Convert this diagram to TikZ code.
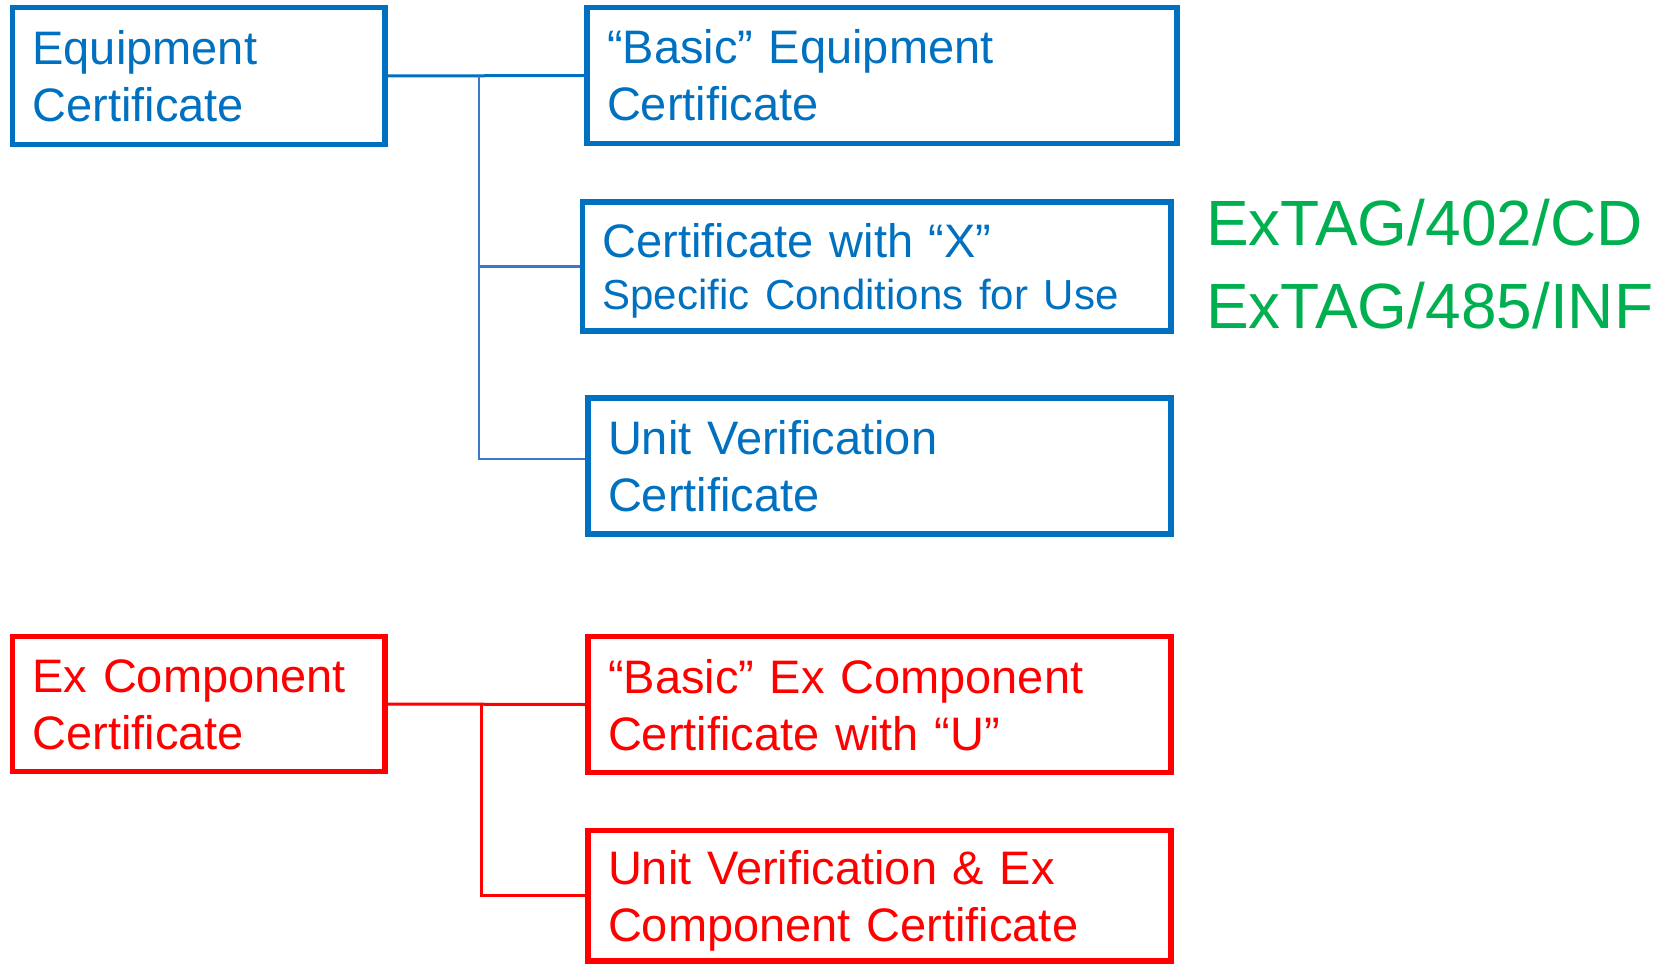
\documentclass[tikz,border=0pt]{standalone}
\usepackage{fontspec}
\setmainfont{Liberation Sans}
\definecolor{cblue}{HTML}{0070C0}
\definecolor{cbluel}{HTML}{3F78C2}
\definecolor{cred}{HTML}{FF0000}
\definecolor{cgreen}{HTML}{00B050}
\begin{document}
\begin{tikzpicture}[x=1pt,y=-1pt,
  cbox/.style={draw, rectangle, line width=5.5pt, inner xsep=20pt, inner ysep=0pt,
    align=left, text height=34pt, text depth=57pt, font=\fontsize{47}{57}\selectfont},
  bluebox/.style={cbox, draw=cblue, text=cblue},
  redbox/.style={cbox, draw=cred, text=cred},
  bconn/.style={draw=cblue, line width=3pt},
  bconnl/.style={draw=cbluel, line width=2.6pt},
  rconn/.style={draw=cred, line width=3pt},
  gtext/.style={text=cgreen, inner sep=0pt, font=\fontsize{64}{76}\selectfont}]
\useasboundingbox (0,0) rectangle (1661,965);

% blue group
\node[bluebox, minimum width=372.5pt, minimum height=137pt, text width=332.5pt] (A) at (198.75,76) {Equipment\\Certificate};
\node[bluebox, minimum width=590pt, minimum height=136pt, text width=550pt] (B) at (882,75.5) {“Basic” Equipment\\Certificate};
\node[bluebox, minimum width=588.5pt, minimum height=129pt, text width=548.5pt, text depth=52pt] (C) at (876.75,266.5) {Certificate with “X”\\[-5pt]{\fontsize{42}{52}\selectfont Specific Conditions for Use}};
\node[bluebox, minimum width=583pt, minimum height=136pt, text width=543pt] (D) at (879.5,466) {Unit Verification\\Certificate};

\coordinate (j1) at (479,76);
\coordinate (jD) at (479,459);
\draw[bconn] (A.east) -- (B.west);
\draw[bconnl] (j1) -- (jD) -- (jD -| D.west);
\draw[bconnl] (j1) |- (C.west);

% green labels
\node[gtext, anchor=base west] (X1) at (1206,246) {ExTAG/402/CD};
\node[gtext, anchor=base west] (X2) at (1206,328) {ExTAG/485/INF};

% red group
\node[redbox, minimum width=372.5pt, minimum height=135pt, text width=332.5pt] (E) at (198.75,704) {Ex Component\\Certificate};
\node[redbox, minimum width=583pt, minimum height=136pt, text width=543pt] (F) at (879.5,704.5) {“Basic” Ex Component\\Certificate with “U”};
\node[redbox, minimum width=583pt, minimum height=130.5pt, text width=543pt] (G) at (879.5,895.75) {Unit Verification \& Ex\\Component Certificate};

\coordinate (j2) at (481,704);
\draw[rconn] (E.east) -- (F.west);
\draw[rconn] (j2) |- (G.west);
\end{tikzpicture}
\end{document}
